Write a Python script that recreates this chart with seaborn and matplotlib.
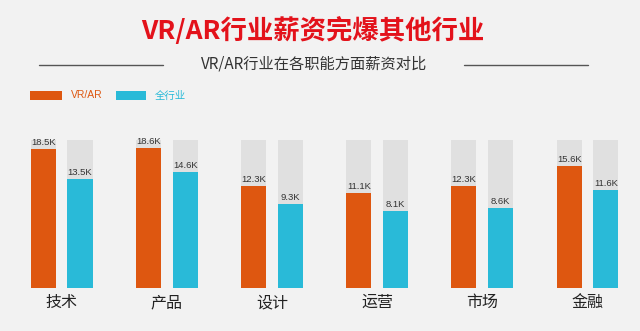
import matplotlib
matplotlib.use("Agg")
import matplotlib.pyplot as plt
from matplotlib.patches import Rectangle
from matplotlib.lines import Line2D
import seaborn as sns
import pandas as pd

# ---- data ----
categories = ["技术", "产品", "设计", "运营", "市场", "金融"]
series_names = ["VR/AR", "全行业"]
vr_values = [18.5, 18.6, 12.3, 11.1, 12.3, 15.6]
all_values = [13.5, 14.6, 9.3, 8.1, 8.6, 11.6]
track_max = 20.0
title = "VR/AR行业薪资完爆其他行业"
subtitle = "VR/AR行业在各职能方面薪资对比"

# ---- style ----
BG = "#f2f2f2"
ORANGE = "#de5710"
CYAN = "#29bad8"
TRACK = "#e0e0e0"
RED = "#e3121b"
YMIN = -4.9

sns.set_theme(style="white")
plt.rcParams["font.family"] = ["Noto Sans CJK SC", "DejaVu Sans"]

df = pd.DataFrame({
    "cat": categories * 2,
    "series": [series_names[0]] * len(categories) + [series_names[1]] * len(categories),
    "value": vr_values + all_values,
})
df["track"] = track_max

fig = plt.figure(figsize=(6.4, 3.31), dpi=100, facecolor=BG)
ax = fig.add_axes([0.0, 0.1299, 1.0, 0.4471])
ax.set_facecolor(BG)

sns.barplot(data=df, x="cat", y="track", hue="series", order=categories,
            hue_order=series_names, palette=[TRACK, TRACK], width=0.70, gap=0.32,
            errorbar=None, legend=False, ax=ax, saturation=1)
sns.barplot(data=df, x="cat", y="value", hue="series", order=categories,
            hue_order=series_names, palette=[ORANGE, CYAN], width=0.70, gap=0.32,
            errorbar=None, legend=False, ax=ax, saturation=1)

# extend bars down to the axis origin
for p in ax.patches:
    top = p.get_y() + p.get_height()
    p.set_y(YMIN)
    p.set_height(top - YMIN)
    p.set_linewidth(0)

# value labels
value_lists = [vr_values, all_values]
for cont, vals in zip(ax.containers[2:4], value_lists):
    for p, v in zip(cont.patches, vals):
        ax.annotate(f"{v}K", (p.get_x() + p.get_width() / 2, v),
                    xytext=(0, 4.6), textcoords="offset points",
                    ha="center", va="center", fontsize=6.8,
                    family=["Liberation Sans", "DejaVu Sans"], color="#333333")

ax.set_ylim(YMIN, track_max)
ax.set_xlim(-0.5857, 5.499)
ax.set_xlabel("")
ax.set_ylabel("")
ax.set_yticks([])
ax.tick_params(axis="x", length=0, pad=4.5, labelsize=11.5, labelcolor="#222222")
for s in ax.spines.values():
    s.set_visible(False)

# titles
fig.text(312.5 / 640, 1 - 31 / 331, title, ha="center", va="center",
         fontsize=19, fontweight="bold", color=RED)
fig.text(314 / 640, 1 - 64 / 331, subtitle, ha="center", va="center",
         fontsize=11, color="#333333")
ly = 1 - 64.7 / 331
fig.add_artist(Line2D([39 / 640, 163 / 640], [ly, ly], color="#555555", lw=1))
fig.add_artist(Line2D([464 / 640, 588 / 640], [ly, ly], color="#555555", lw=1))

# legend
leg_y0 = 1 - 100 / 331
leg_h = 9 / 331
fig.add_artist(Rectangle((30 / 640, leg_y0), 32 / 640, leg_h, color=ORANGE,
                         transform=fig.transFigure, lw=0))
fig.add_artist(Rectangle((116 / 640, leg_y0), 30 / 640, leg_h, color=CYAN,
                         transform=fig.transFigure, lw=0))
fig.text(71 / 640, 1 - 95.5 / 331, series_names[0], ha="left", va="center",
         fontsize=7.5, color=ORANGE, family=["Liberation Sans", "DejaVu Sans"])
fig.text(155 / 640, 1 - 95.5 / 331, series_names[1], ha="left", va="center",
         fontsize=7.5, color=CYAN)

fig.savefig("out.png", dpi=100, facecolor=BG)
